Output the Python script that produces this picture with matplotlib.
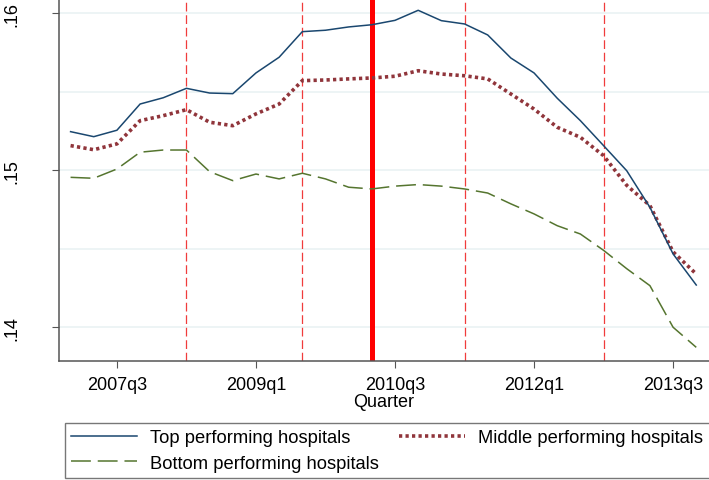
import numpy as np
import matplotlib
matplotlib.use("Agg")
import matplotlib.pyplot as plt

plt.rcParams['font.family'] = ['Liberation Sans', 'DejaVu Sans']

# quarters 2007q1 .. 2013q4
quarters = [f"{y}q{q}" for y in range(2007, 2014) for q in range(1, 5)]

top = [0.15246, 0.15214, 0.15255, 0.15422, 0.15462, 0.15522, 0.15492, 0.15488,
       0.15620, 0.15720, 0.15883, 0.15892, 0.15913, 0.15927, 0.15955, 0.16019,
       0.15953, 0.15932, 0.15862, 0.15715, 0.15620, 0.15459, 0.15316, 0.15157,
       0.14997, 0.14764, 0.14467, 0.14269]
middle = [0.15157, 0.15131, 0.15168, 0.15316, 0.15348, 0.15386, 0.15306, 0.15284,
          0.15359, 0.15422, 0.15571, 0.15575, 0.15582, 0.15588, 0.15599, 0.15634,
          0.15613, 0.15602, 0.15582, 0.15486, 0.15390, 0.15274, 0.15210, 0.15093,
          0.14904, 0.14775, 0.14480, 0.14339]
bottom = [0.14955, 0.14949, 0.15008, 0.15115, 0.15129, 0.15129, 0.14991, 0.14934,
          0.14976, 0.14945, 0.14981, 0.14945, 0.14892, 0.14881, 0.14899, 0.14909,
          0.14899, 0.14881, 0.14855, 0.14786, 0.14722, 0.14647, 0.14594, 0.14490,
          0.14373, 0.14265, 0.14000, 0.13872]

xtick_labels = ["2007q3", "2009q1", "2010q3", "2012q1", "2013q3"]
ytick_vals = [0.14, 0.15, 0.16]
ytick_labels = [".14", ".15", ".16"]
dashed_at = ["2008q2", "2009q3", "2011q2", "2012q4"]
thick_at = "2010q2"

x = np.arange(len(quarters))
pos = {q: i for i, q in enumerate(quarters)}

fig = plt.figure(figsize=(7.09, 4.81), dpi=100)
ax = fig.add_axes([0.0832, 0.2474, 0.9168, 0.7526])

for v in [0.14, 0.145, 0.15, 0.155, 0.16]:
    ax.axhline(v, color="#eaf2f3", lw=1.2, zorder=0)

for q in dashed_at:
    ax.axvline(pos[q], color="#f03c3c", lw=0.9, dashes=(7, 3), zorder=1)
ax.axvline(pos[thick_at], color="#ff0000", lw=3.6, zorder=1)

l_top, = ax.plot(x, top, color="#1a476f", lw=1.1, label="Top performing hospitals", zorder=3)
l_mid, = ax.plot(x, middle, color="#90353b", lw=2.6, dashes=(0.9, 0.9),
                 dash_capstyle="butt", label="Middle performing hospitals", zorder=2)
l_bot, = ax.plot(x, bottom, color="#55752f", lw=1.1, dashes=(13, 4.5),
                 label="Bottom performing hospitals", zorder=2)

ax.set_xlim(-0.5, 27.55)
ax.set_ylim(0.13785, 0.16091)
ax.set_xticks([pos[q] for q in xtick_labels])
ax.set_xticklabels(xtick_labels)
ax.set_yticks(ytick_vals)
ax.set_yticklabels(ytick_labels, rotation=90, va="center")
ax.tick_params(axis="x", labelsize=13, length=5, color="#555555", pad=6)
ax.tick_params(axis="y", labelsize=13, length=5, color="#555555", pad=23)
ax.set_xlabel("Quarter", fontsize=13, labelpad=0)

for s in ["top", "right"]:
    ax.spines[s].set_visible(False)
for s in ["left", "bottom"]:
    ax.spines[s].set_color("#555555")
    ax.spines[s].set_linewidth(1.1)

leg = fig.legend([l_top, l_bot, l_mid],
                 [l_top.get_label(), l_bot.get_label(), l_mid.get_label()],
                 ncol=2, loc="lower left", bbox_to_anchor=(65 / 709, 2 / 481),
                 fontsize=13.2, frameon=True, fancybox=False,
                 edgecolor="#555555", handlelength=3.6, handletextpad=0.7,
                 labelspacing=0.45, borderpad=0.35, columnspacing=1.1, borderaxespad=0)
leg.get_frame().set_linewidth(1.0)

fig.savefig("out.png", dpi=100)
